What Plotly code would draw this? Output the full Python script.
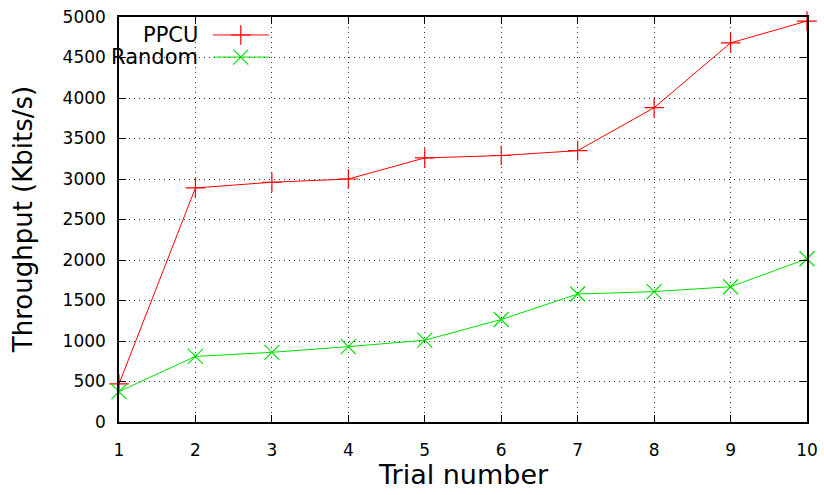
import plotly.graph_objects as go

trials = [1, 2, 3, 4, 5, 6, 7, 8, 9, 10]
ppcu = [470, 2890, 2960, 3000, 3260, 3290, 3350, 3880, 4680, 4950]
random_ = [375, 810, 860, 930, 1010, 1265, 1580, 1610, 1670, 2015]
y_ticks = [0, 500, 1000, 1500, 2000, 2500, 3000, 3500, 4000, 4500, 5000]

FONT = "DejaVu Sans"
RED = "#ff0000"
GREEN = "#00e000"

fig = go.Figure()
fig.add_trace(go.Scatter(x=trials, y=ppcu, mode="lines+markers", name="PPCU",
                         line=dict(color=RED, width=1), cliponaxis=False,
                         marker=dict(symbol="cross-thin", size=14, line=dict(color=RED, width=1.2)),
                         showlegend=False))
fig.add_trace(go.Scatter(x=trials, y=random_, mode="lines+markers", name="Random",
                         line=dict(color=GREEN, width=1), cliponaxis=False,
                         marker=dict(symbol="x-thin", size=15, line=dict(color=GREEN, width=1.2)),
                         showlegend=False))

# legend samples (gnuplot-style key) on an overlay axis in [0,1]
lx = [0.1366, 0.177, 0.218]
for yk, col, sym, sz in [(0.9556, RED, "cross-thin", 14), (0.901, GREEN, "x-thin", 15)]:
    fig.add_trace(go.Scatter(x=lx, y=[yk] * 3, xaxis="x2", yaxis="y2", mode="lines",
                             line=dict(color=col, width=1), showlegend=False, hoverinfo="skip"))
    fig.add_trace(go.Scatter(x=[lx[1]], y=[yk], xaxis="x2", yaxis="y2", mode="markers",
                             marker=dict(symbol=sym, size=sz, line=dict(color=col, width=1.2)),
                             showlegend=False, hoverinfo="skip"))

fig.add_annotation(x=0.1177, y=0.9556, xref="paper", yref="paper", text="PPCU",
                   showarrow=False, xanchor="right", yanchor="middle",
                   font=dict(family=FONT, size=21, color="black"))
fig.add_annotation(x=0.1177, y=0.901, xref="paper", yref="paper", text="Random",
                   showarrow=False, xanchor="right", yanchor="middle",
                   font=dict(family=FONT, size=21, color="black"))

# axis titles
fig.add_annotation(x=0.5, y=-0.13, xref="paper", yref="paper", text="Trial number",
                   showarrow=False, xanchor="center", yanchor="middle",
                   font=dict(family=FONT, size=27, color="black"))
fig.add_annotation(x=-0.14, y=0.5, xref="paper", yref="paper", text="Throughput (Kbits/s)",
                   showarrow=False, xanchor="center", yanchor="middle", textangle=-90,
                   font=dict(family=FONT, size=26, color="black"))

# white key box masking the grid
fig.add_shape(type="rect", xref="paper", yref="paper", x0=0.003, x1=0.231, y0=0.867, y1=0.98,
              fillcolor="white", line=dict(width=0), layer="between")

axis_common = dict(showline=True, linecolor="black", linewidth=1.5, mirror="ticks",
                   ticks="inside", ticklen=7, tickcolor="black", showgrid=True,
                   gridcolor="#333333", griddash="1px,4px", gridwidth=1, zeroline=False,
                   automargin=False,
                   tickfont=dict(family=FONT, size=17, color="black"))

fig.update_layout(
    width=824, height=495,
    margin=dict(l=119, r=17, t=17, b=73),
    paper_bgcolor="white", plot_bgcolor="white",
    font=dict(family=FONT, color="black"),
    xaxis=dict(range=[1, 10], tickvals=trials, ticklabelstandoff=12, **axis_common),
    yaxis=dict(range=[0, 5000], tickvals=y_ticks, ticklabelstandoff=8, **axis_common),
    xaxis2=dict(range=[0, 1], overlaying="x", visible=False, fixedrange=True),
    yaxis2=dict(range=[0, 1], overlaying="y", visible=False, fixedrange=True),
)

fig.write_html("out.html")
